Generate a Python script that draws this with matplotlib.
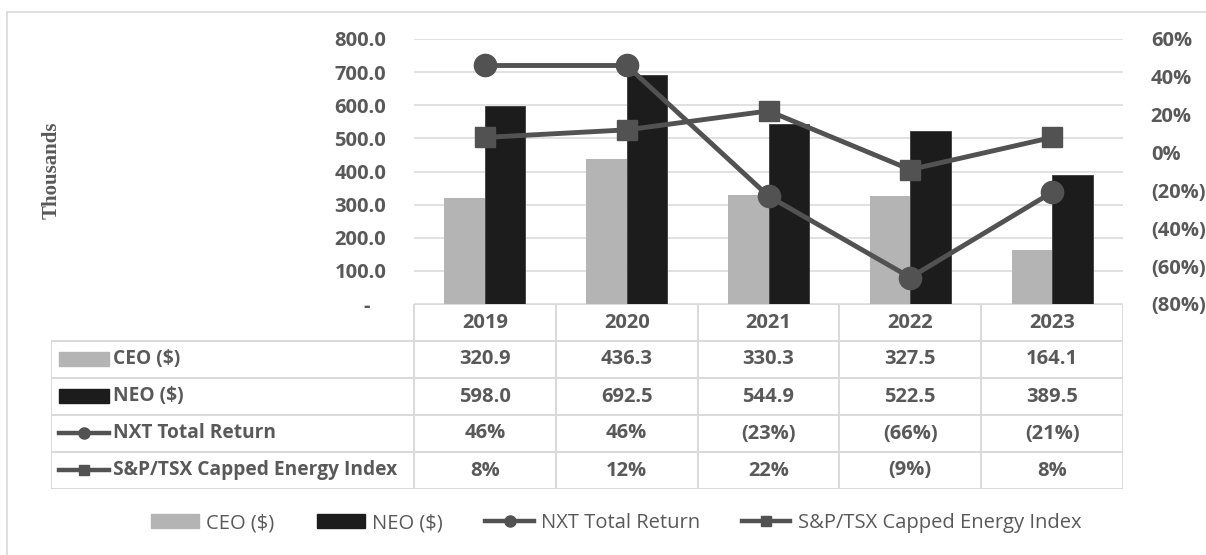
import numpy as np
import matplotlib
matplotlib.use("Agg")
from matplotlib import pyplot as plt
from matplotlib.lines import Line2D
from matplotlib.patches import Patch, Rectangle

years = ["2019", "2020", "2021", "2022", "2023"]
ceo = [320.9, 436.3, 330.3, 327.5, 164.1]
neo = [598.0, 692.5, 544.9, 522.5, 389.5]
nxt_return = [46, 46, -23, -66, -21]
energy_index = [8, 12, 22, -9, 8]
series_names = ["CEO ($)", "NEO ($)", "NXT Total Return", "S&P/TSX Capped Energy Index"]

W, H = 1206, 555
GRAY_TXT = "#595959"
GRID = "#d9d9d9"
CEO_C = "#b4b4b4"
NEO_C = "#1c1c1c"
LINE_C = "#525252"
FS = 14.5

plt.rcParams["font.family"] = ["Open Sans", "DejaVu Sans"]


def px_rect(l, t, r, b):
    return [l / W, 1 - b / H, (r - l) / W, (b - t) / H]


def fx(px):
    return px / W


def fy(py):
    return 1 - py / H


def pct(v):
    return f"({abs(v):.0f}%)" if v < 0 else f"{v:.0f}%"


fig = plt.figure(figsize=(W / 100, H / 100), dpi=100)

# outer chart border
fig.add_artist(Line2D([fx(7), fx(7)], [fy(12), fy(560)], color=GRID, lw=1.2))
fig.add_artist(Line2D([fx(7), fx(1210)], [fy(12), fy(12)], color=GRID, lw=1.2))

ax = fig.add_axes(px_rect(414, 39, 1123, 304))
x = np.arange(len(years))
w = 0.286
ax.bar(x - w / 2, ceo, w, color=CEO_C, zorder=2)
ax.bar(x + w / 2, neo, w, color=NEO_C, edgecolor="#3a3a3a", lw=0.6, zorder=2)
ax.set_xlim(-0.5, len(years) - 0.5)
ax.set_ylim(0, 800)
ax.set_yticks(np.arange(0, 801, 100))
ax.set_yticklabels(["-   "] + [f"{v:.1f}" for v in np.arange(100, 801, 100)])
ax.set_xticks([])
ax.yaxis.grid(True, color=GRID, lw=1.1, zorder=0)
ax.set_axisbelow(True)
ax.tick_params(axis="y", length=0, pad=20, labelsize=FS, labelcolor=GRAY_TXT)
for lab in ax.get_yticklabels():
    lab.set_fontweight("bold")
for s in ax.spines.values():
    s.set_visible(False)

ax2 = ax.twinx()
ax2.plot(x, np.array(nxt_return) / 100, color=LINE_C, lw=3.5, marker="o", ms=16, zorder=3)
ax2.plot(x, np.array(energy_index) / 100, color=LINE_C, lw=3.5, marker="s", ms=14, zorder=3)
ax2.set_ylim(-0.8, 0.6)
rt = np.arange(-80, 61, 20)
ax2.set_yticks(rt / 100)
ax2.set_yticklabels([pct(v) for v in rt])
ax2.tick_params(axis="y", length=0, pad=20, labelsize=FS, labelcolor=GRAY_TXT)
for lab in ax2.get_yticklabels():
    lab.set_fontweight("bold")
for s in ax2.spines.values():
    s.set_visible(False)

fig.text(fx(52), fy(170), "Thousands", rotation=90, ha="center", va="center",
         family="Liberation Serif", weight="bold", size=15, color=GRAY_TXT)

# data table under the plot
cat_px = (1123 - 414) / len(years)
lab_w = (414 - 51) / cat_px
tab = fig.add_axes(px_rect(51, 304, 1123, 489))
tab.set_xlim(-0.5 - lab_w, len(years) - 0.5)
tab.set_ylim(5, 0)
tab.axis("off")
left = -0.5 - lab_w
tab.plot([-0.5, len(years) - 0.5], [0, 0], color=GRID, lw=1.4)
for r in range(1, 6):
    tab.plot([left, len(years) - 0.5], [r, r], color=GRID, lw=1.4)
tab.plot([left, left], [1, 5], color=GRID, lw=1.4)
for c in np.arange(-0.5, len(years), 1.0):
    tab.plot([c, c], [0, 5], color=GRID, lw=1.4)

rows = [years,
        [f"{v:.1f}" for v in ceo],
        [f"{v:.1f}" for v in neo],
        [pct(v) for v in nxt_return],
        [pct(v) for v in energy_index]]
for r, vals in enumerate(rows):
    for c, v in enumerate(vals):
        tab.text(c, r + 0.5, v, ha="center", va="center", size=FS,
                 weight="bold", color=GRAY_TXT)

# row labels with series keys
sw_l, sw_r, txt_x = 59, 109, 113
row_mid = [359, 396, 433, 470]
for i, name in enumerate(series_names):
    ym = row_mid[i]
    if i < 2:
        fig.add_artist(Rectangle((fx(sw_l), fy(ym + 7)), fx(sw_r) - fx(sw_l), fy(ym - 7) - fy(ym + 7),
                                 color=[CEO_C, NEO_C][i]))
    else:
        fig.add_artist(Line2D([fx(sw_l), fx(sw_r)], [fy(ym), fy(ym)], color=LINE_C, lw=3.2))
        fig.add_artist(Line2D([fx((sw_l + sw_r) / 2)], [fy(ym)], color=LINE_C,
                              marker="o" if i == 2 else "s", ms=8 if i == 2 else 7.5, lw=0))
    fig.text(fx(txt_x), fy(ym), name, ha="left", va="center", size=13.8, weight="bold",
             color=GRAY_TXT)

handles = [Patch(color=CEO_C), Patch(color=NEO_C),
           Line2D([], [], color=LINE_C, lw=3.2, marker="o", ms=8),
           Line2D([], [], color=LINE_C, lw=3.2, marker="s", ms=7.5)]
fig.legend(handles, series_names, loc="center", bbox_to_anchor=(fx(616), fy(523)),
           ncol=4, frameon=False, fontsize=FS, labelcolor=GRAY_TXT,
           handlelength=2.4, handleheight=0.7, handletextpad=0.35, columnspacing=2.1)

fig.savefig("out.png", dpi=100)
